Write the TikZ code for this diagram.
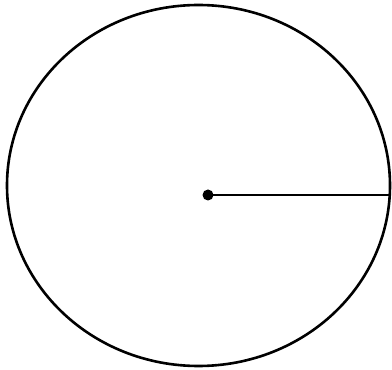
\documentclass[tikz,border=0pt]{standalone}
\usetikzlibrary{shapes.geometric}
\begin{document}
\begin{tikzpicture}[x=1pt,y=1pt,
  rim/.style={draw=black,ellipse,line width=2.6pt,minimum width=383pt,minimum height=361pt,inner sep=0pt,outer sep=0pt},
  centerdot/.style={circle,fill=black,minimum size=11pt,inner sep=0pt},
  radius/.style={draw=black,line width=2.6pt}]
\useasboundingbox (0,0) rectangle (392,370);
\node[rim] (c) at (198.5,184.5) {};
\node[centerdot] (o) at (208,175) {};
\coordinate (e) at (o -| c.east);
\draw[radius] (o.center) -- (e);
\end{tikzpicture}
\end{document}
